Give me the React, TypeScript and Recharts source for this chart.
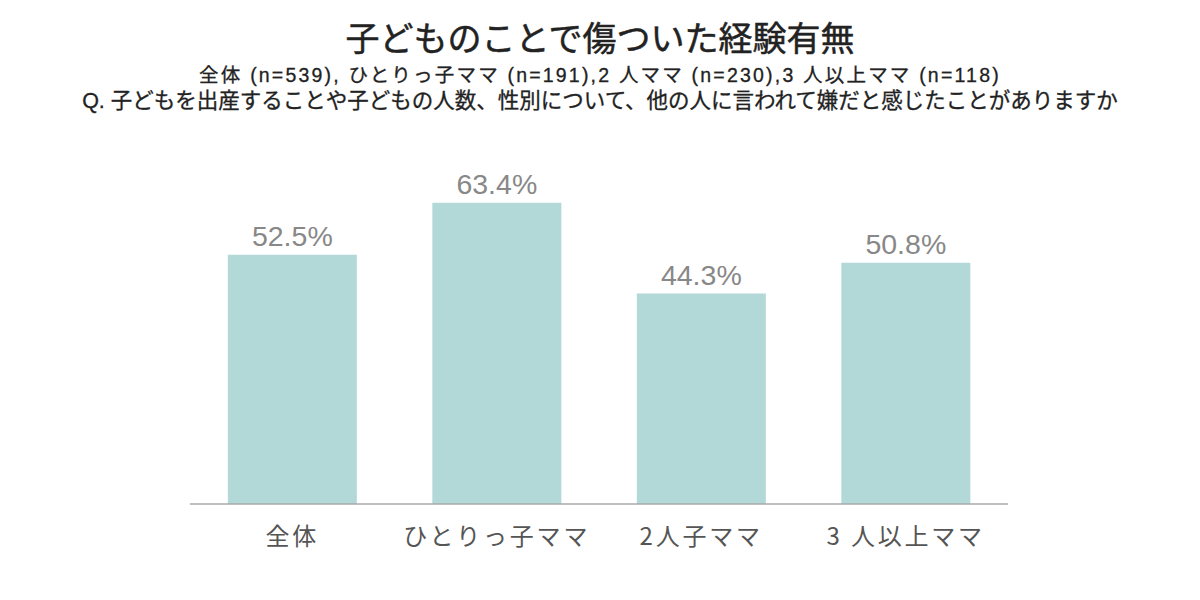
import React from 'react';
import { BarChart, Bar, XAxis, YAxis, LabelList } from 'recharts';

const categories = ['全体', 'ひとりっ子ママ', '2人子ママ', '3 人以上ママ'];
const values = [52.5, 63.4, 44.3, 50.8];
const title = '子どものことで傷ついた経験有無';
const subtitle1 = '全体 (n=539), ひとりっ子ママ (n=191),2 人ママ (n=230),3 人以上ママ (n=118)';
const subtitle2 = 'Q. 子どもを出産することや子どもの人数、性別について、他の人に言われて嫌だと感じたことがありますか';

const data = categories.map((c, i) => ({ name: c, value: values[i] }));

const jp = '"Noto Sans CJK JP", "Noto Sans", sans-serif';
const mixed = '"Liberation Sans", "Noto Sans CJK JP", sans-serif';

export default function App() {
  return (
    <div style={{ position: 'absolute', left: 0, top: 0, width: 1200, height: 600, background: '#fff' }}>
      <div style={{ position: 'absolute', top: 15, left: 0, width: 1200, textAlign: 'center', fontFamily: jp, fontSize: 34, fontWeight: 400, color: '#222', lineHeight: '44px', WebkitTextStroke: '0.5px #222' }}>{title}</div>
      <div style={{ position: 'absolute', top: 62, left: 0, width: 1200, textAlign: 'center', fontFamily: mixed, fontSize: 19.5, letterSpacing: 2.2, fontWeight: 400, color: '#222', lineHeight: '26px', WebkitTextStroke: '0.3px #222' }}>{subtitle1}</div>
      <div style={{ position: 'absolute', top: 88, left: 0, width: 1200, textAlign: 'center', fontFamily: mixed, fontSize: 21.5, fontWeight: 400, color: '#222', lineHeight: '26px', WebkitTextStroke: '0.3px #222' }}>{subtitle2}</div>
      <div style={{ position: 'absolute', left: 0, top: 0 }}>
        <BarChart width={1200} height={600} data={data} margin={{ top: 29, bottom: 66, left: 190, right: 192 }} barCategoryGap="18.5%">
          <XAxis
            dataKey="name"
            height={30}
            axisLine={{ stroke: '#aaaaaa', strokeWidth: 1.5 }}
            tickLine={false}
            tickMargin={18}
            tick={{ fontSize: 24, fill: '#555', fontFamily: jp, letterSpacing: 2.8 }}
            interval={0}
          />
          <YAxis hide domain={[0, 100]} />
          <Bar dataKey="value" fill="#b2d8d8" isAnimationActive={false}>
            <LabelList
              dataKey="value"
              position="top"
              offset={9}
              formatter={(v: number) => `${v.toFixed(1)}%`}
              style={{ fontSize: 28.5, fill: '#888', fontFamily: '"Liberation Sans", Arial, sans-serif' }}
            />
          </Bar>
        </BarChart>
      </div>
    </div>
  );
}
